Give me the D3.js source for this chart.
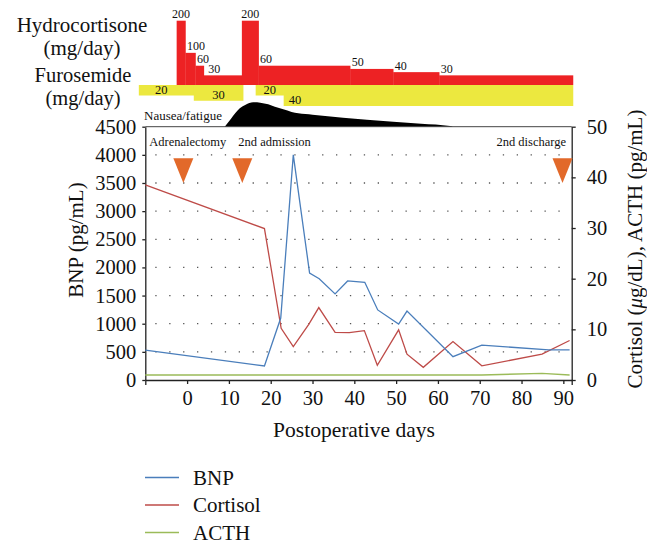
<!DOCTYPE html>
<html><head><meta charset="utf-8">
<script src="https://cdn.jsdelivr.net/npm/d3@7"></script>
<style>
body{margin:0;background:#fff}
svg{display:block}
</style>
</head><body><svg id="c" width="647" height="543"></svg>
<script>
// ---- data ----
const bnpDays = [-10, 18.5, 22.4, 25.4, 29.3, 31.6, 35.4, 38.4, 42.5, 45.6, 50.6, 52.6, 63.6, 70.5, 86.5, 91.5];
const bnpValues = [530, 250, 1100, 4000, 1900, 1800, 1530, 1760, 1735, 1245, 995, 1225, 415, 620, 535, 535];
const cortisolDays = [-10, 18.5, 22.5, 25.4, 29.1, 31.5, 35.4, 38.8, 42.4, 45.5, 50.6, 52.6, 56.5, 63.6, 70.5, 84.9, 91.5];
const cortisolValues = [38.5, 29.9, 10.2, 6.6, 11.0, 14.3, 9.4, 9.35, 9.75, 2.9, 9.9, 5.1, 2.5, 7.6, 2.8, 5.1, 7.8];
const acthDays = [-10, 18.5, 45.5, 70.5, 84.9, 91.5];
const acthValues = [1.0, 1.0, 1.0, 1.0, 1.3, 1.0];

const hcStart = [-2.5, -0.4, 2.0, 4.0, 13.1, 17.1, 39.0, 49.3, 60.3];
const hcEnd   = [-0.4, 2.0, 4.0, 13.1, 17.1, 39.0, 49.3, 60.3, 92.3];
const hcDose  = [200, 100, 60, 30, 200, 60, 50, 40, 30];

const furoStart = [-11.55, 1.6, 16.4, 23.1];
const furoEnd   = [1.6, 13.4, 23.1, 92.3];
const furoDose  = [20, 30, 20, 40];

const nauseaDays  = [9.0, 10.5, 12.6, 14.0, 15.8, 17.5, 19.4, 21.0, 23.0, 25.0, 26.6, 30.0, 37.3, 43.0, 49.3, 56.0, 62.9, 63.6];
const nauseaLevel = [0, 8, 18.4, 22, 24.4, 24, 22.4, 20, 17.4, 14.8, 13.4, 12, 9, 7, 5, 3, 0.7, 0];

const eventDays   = [-0.9, 13.2, 89.8];
const eventLabels = ["Adrenalectomy", "2nd admission", "2nd discharge"];

const xTicks = [0, 10, 20, 30, 40, 50, 60, 70, 80, 90];
const leftTicks = [0, 500, 1000, 1500, 2000, 2500, 3000, 3500, 4000, 4500];
const rightTicks = [0, 10, 20, 30, 40, 50];
const gridValues = [500, 1000, 1500, 2000, 2500, 3000, 3500, 4000];

const seriesNames = ["BNP", "Cortisol", "ACTH"];
const seriesColors = ["#4A7EBB", "#BE4B48", "#9BBB59"];

// ---- scales ----
const FONT = '"Liberation Serif", "Times New Roman", serif';
const svg = d3.select("#c").style("font-family", FONT);
const x = d3.scaleLinear().domain([-10, 92]).range([145.3, 571.7]);
const yL = d3.scaleLinear().domain([0, 4500]).range([380, 126.7]);
const yR = d3.scaleLinear().domain([0, 50]).range([380, 126.7]);
const hy = d3.scaleLinear().domain([0, 200]).range([85, 20.7]);
const fy = d3.scaleLinear().domain([0, 40]).range([85, 106]);
const ny = d3.scaleLinear().domain([0, 25]).range([126.7, 101.7]);

function T(sel, size) {
  return sel.style("font-family", FONT).style("font-size", size + "px").attr("fill", "#111");
}

// ---- left titles ----
const lt = svg.append("g").attr("text-anchor", "middle");
T(lt.append("text").attr("x", 82).attr("y", 32).text("Hydrocortisone"), 21);
T(lt.append("text").attr("x", 82).attr("y", 54.5).text("(mg/day)"), 21);
T(lt.append("text").attr("x", 83).attr("y", 81.5).text("Furosemide"), 20.5);
T(lt.append("text").attr("x", 83).attr("y", 105).text("(mg/day)"), 20.5);

// ---- hydrocortisone ----
const hc = hcDose.map((d, i) => ({d, s: hcStart[i], e: hcEnd[i], i}));
svg.append("g").selectAll("rect").data(hc).join("rect")
  .attr("x", d => x(d.s)).attr("width", d => x(d.e) - x(d.s) + 0.3)
  .attr("y", d => hy(d.d)).attr("height", d => hy(0) - hy(d.d))
  .attr("fill", "#ED2224");
T(svg.append("g").selectAll("text").data(hc).join("text")
  .attr("x", d => d.d === 200 ? (x(d.s) + x(d.e)) / 2 : x(d.s) + (d.i === 3 ? 4.5 : 1.5))
  .attr("text-anchor", d => d.d === 200 ? "middle" : "start")
  .attr("y", d => hy(d.d) - 2.5)
  .text(d => d.d), 12);

// ---- furosemide ----
const fu = furoDose.map((d, i) => ({d, s: furoStart[i], e: furoEnd[i], i}));
svg.append("g").selectAll("rect").data(fu).join("rect")
  .attr("x", d => x(d.s)).attr("width", d => x(d.e) - x(d.s) + 0.3)
  .attr("y", fy(0)).attr("height", d => fy(d.d) - fy(0))
  .attr("fill", "#ECE83F");
T(svg.append("g").selectAll("text").data(fu).join("text")
  .attr("x", d => d.i === 3 ? x(d.s) + 5 : (d.i === 0 ? (x(d.s) + x(d.e)) / 2 - 5 : (x(d.s) + x(d.e)) / 2))
  .attr("text-anchor", d => d.i === 3 ? "start" : "middle")
  .attr("y", d => fy(d.d) - 2)
  .text(d => d.d), 12.5);

// ---- nausea ----
svg.append("path")
  .datum(nauseaDays.map((d, i) => [d, nauseaLevel[i]]))
  .attr("d", d3.area().x(d => x(d[0])).y0(ny(0)).y1(d => ny(d[1])).curve(d3.curveMonotoneX))
  .attr("fill", "#000");
T(svg.append("text").attr("x", 144).attr("y", 120).text("Nausea/fatigue"), 13);

// ---- grid ----
const xMin = x.range()[0], xMax = x.range()[1];
svg.append("g").selectAll("line").data(gridValues).join("line")
  .attr("x1", xMin + 10).attr("x2", xMax - 2)
  .attr("y1", d => yL(d)).attr("y2", d => yL(d))
  .attr("stroke", "#555").attr("stroke-width", 1.3)
  .attr("stroke-dasharray", "1.3,12.6");

// top frame
svg.append("line").attr("x1", xMin).attr("x2", xMax).attr("y1", yL(4500)).attr("y2", yL(4500))
  .attr("stroke", "#444").attr("stroke-width", 1);

// ---- axes ----
const fmt = d3.format("d");
const axX = svg.append("g").attr("transform", `translate(0,${yL(0)})`)
  .call(d3.axisBottom(x).tickValues(xTicks).tickFormat(fmt).tickSize(4).tickSizeOuter(5).tickPadding(6));
const axL = svg.append("g").attr("transform", `translate(${xMin},0)`)
  .call(d3.axisLeft(yL).tickValues(leftTicks).tickFormat(fmt).tickSize(3).tickSizeOuter(0).tickPadding(6));
const axR = svg.append("g").attr("transform", `translate(${xMax},0)`)
  .call(d3.axisRight(yR).tickValues(rightTicks).tickFormat(fmt).tickSize(4).tickSizeOuter(0).tickPadding(11));
[axX, axL, axR].forEach(a => {
  a.attr("font-family", null).attr("font-size", null);
  a.selectAll("path,line").attr("stroke", "#222").attr("stroke-width", 1.3);
  T(a.selectAll("text"), 20.5);
});

// ---- axis titles ----
T(svg.append("text").attr("transform", "translate(83,240) rotate(-90)")
  .attr("text-anchor", "middle").text("BNP (pg/mL)"), 21);
const rt = T(svg.append("text").attr("transform", "translate(642,249) rotate(-90)")
  .attr("text-anchor", "middle"), 21);
rt.append("tspan").text("Cortisol (");
rt.append("tspan").style("font-style", "italic").text("\u03bc");
rt.append("tspan").text("g/dL), ACTH (pg/mL)");
T(svg.append("text").attr("x", 354).attr("y", 437).attr("text-anchor", "middle")
  .text("Postoperative days"), 21.5);

// ---- lines ----
const line = (days, vals, ys) => d3.line().x((d, i) => x(days[i])).y(d => ys(d))(vals);
svg.append("path").attr("d", line(acthDays, acthValues, yR)).attr("fill", "none")
  .attr("stroke", seriesColors[2]).attr("stroke-width", 1.4);
svg.append("path").attr("d", line(cortisolDays, cortisolValues, yR)).attr("fill", "none")
  .attr("stroke", seriesColors[1]).attr("stroke-width", 1.3);
svg.append("path").attr("d", line(bnpDays, bnpValues, yL)).attr("fill", "none")
  .attr("stroke", seriesColors[0]).attr("stroke-width", 1.3);

// ---- events ----
const triTop = yL(3940), triTip = yL(3500);
svg.append("g").selectAll("path").data(eventDays).join("path")
  .attr("d", d => `M${x(d) - 10},${triTop}L${x(d) + 10},${triTop}L${x(d)},${triTip}Z`)
  .attr("fill", "#E2692A");
T(svg.append("g").selectAll("text").data(eventLabels).join("text")
  .attr("x", (d, i) => i === 0 ? xMin + 4 : (i === 1 ? x(eventDays[i]) - 4 : x(eventDays[i]) + 3.5))
  .attr("text-anchor", (d, i) => i === 2 ? "end" : "start")
  .attr("y", 146)
  .text(d => d), 12.5);

// ---- legend ----
const lg = svg.append("g").selectAll("g").data(seriesNames).join("g")
  .attr("transform", (d, i) => `translate(145,${477.5 + i * 27.5})`);
lg.append("line").attr("x1", 0).attr("x2", 34).attr("stroke", (d, i) => seriesColors[i]).attr("stroke-width", 1.4);
T(lg.append("text").attr("x", 48).attr("y", 7).text(d => d), 21);
</script>
</body></html>
